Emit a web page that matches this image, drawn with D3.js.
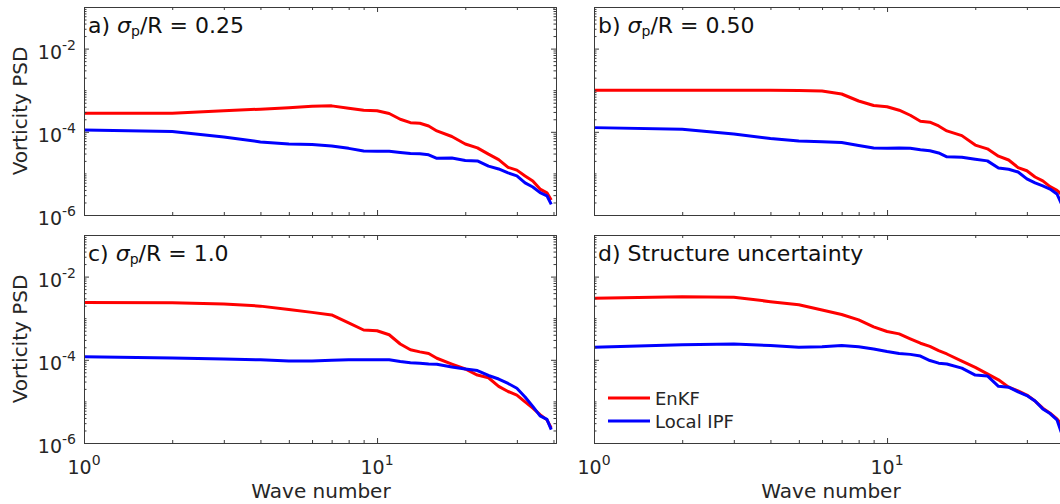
<!DOCTYPE html>
<html>
<head>
<meta charset="utf-8">
<script src="https://cdn.jsdelivr.net/npm/d3@7"></script>
<style>
  body { margin: 0; background: #fff; }
  svg { display: block; font-family: "DejaVu Sans", sans-serif; }
</style>
</head>
<body>
<svg id="chart" width="1060" height="504"></svg>
<script>
// wave numbers shared by all curves
const waveNumbers = [1, 2, 3, 4, 5, 6, 7, 8, 9, 10, 11, 12, 13, 14, 15, 16, 18, 20, 22, 24, 26, 28, 30, 32, 34, 36, 38, 39.3];

// a) sigma_p/R = 0.25
const enkfA = [2.8e-4, 2.8e-4, 3.2e-4, 3.5e-4, 3.8e-4, 4.1e-4, 4.2e-4, 3.7e-4, 3.3e-4, 3.2e-4, 2.75e-4, 2.0e-4, 1.66e-4, 1.6e-4,
               1.38e-4, 1.05e-4, 7.7e-5, 5.1e-5, 4.1e-5, 2.9e-5, 2.15e-5, 1.4e-5, 1.2e-5, 8.7e-6, 6.6e-6, 4.2e-6, 3.4e-6, 2.3e-6];
const ipfA  = [1.1e-4, 1.02e-4, 7.5e-5, 5.7e-5, 5.1e-5, 4.95e-5, 4.55e-5, 4.0e-5, 3.45e-5, 3.4e-5, 3.4e-5, 3.2e-5, 3.0e-5, 2.95e-5,
               2.8e-5, 2.3e-5, 2.35e-5, 2.05e-5, 2.0e-5, 1.5e-5, 1.28e-5, 1.03e-5, 8.7e-6, 5.9e-6, 4.7e-6, 3.45e-6, 2.9e-6, 1.8e-6];

// b) sigma_p/R = 0.50
const enkfB = [1.0e-3, 1.0e-3, 1.0e-3, 1.0e-3, 9.8e-4, 9.6e-4, 8.1e-4, 5.5e-4, 4.3e-4, 4.0e-4, 3.3e-4, 2.5e-4, 1.8e-4, 1.7e-4,
               1.38e-4, 1.05e-4, 8.1e-5, 4.8e-5, 3.9e-5, 2.6e-5, 2.1e-5, 1.38e-5, 1.16e-5, 8.2e-6, 6.6e-6, 4.8e-6, 3.9e-6, 3.2e-6];
const ipfB  = [1.26e-4, 1.15e-4, 8.9e-5, 6.9e-5, 6.0e-5, 5.8e-5, 5.5e-5, 4.7e-5, 4.1e-5, 4.0e-5, 4.1e-5, 4.0e-5, 3.7e-5, 3.5e-5,
               3.1e-5, 2.5e-5, 2.45e-5, 2.2e-5, 2.0e-5, 1.35e-5, 1.26e-5, 1.08e-5, 7.4e-6, 5.9e-6, 5.0e-6, 4.2e-6, 3.2e-6, 1.9e-6];

// c) sigma_p/R = 1.0
const enkfC = [2.4e-3, 2.35e-3, 2.2e-3, 1.95e-3, 1.62e-3, 1.38e-3, 1.2e-3, 7.7e-4, 5.2e-4, 5.0e-4, 4.0e-4, 2.4e-4, 1.74e-4, 1.55e-4,
               1.42e-4, 1.09e-4, 7.9e-5, 6.0e-5, 4.3e-5, 3.7e-5, 2.3e-5, 1.73e-5, 1.42e-5, 9.7e-6, 6.9e-6, 4.8e-6, 3.6e-6, 2.3e-6];
const ipfC  = [1.19e-4, 1.1e-4, 1.04e-4, 1.0e-4, 9.4e-5, 9.4e-5, 9.8e-5, 1.0e-4, 1.0e-4, 1.0e-4, 1.0e-4, 9.1e-5, 8.5e-5, 8.3e-5,
               7.9e-5, 7.8e-5, 6.7e-5, 6.0e-5, 5.5e-5, 4.2e-5, 3.45e-5, 2.7e-5, 2.07e-5, 1.28e-5, 7.6e-6, 4.5e-6, 3.7e-6, 2.1e-6];

// d) structure uncertainty
const enkfD = [3.0e-3, 3.3e-3, 3.2e-3, 2.5e-3, 2.1e-3, 1.58e-3, 1.23e-3, 9.1e-4, 6.2e-4, 4.8e-4, 4.2e-4, 3.2e-4, 2.5e-4, 2.1e-4,
               1.66e-4, 1.38e-4, 9.3e-5, 6.6e-5, 4.6e-5, 3.3e-5, 2.2e-5, 1.78e-5, 1.42e-5, 1.02e-5, 6.9e-6, 5.2e-6, 3.8e-6, 2.8e-6];
const ipfD  = [2.0e-4, 2.3e-4, 2.4e-4, 2.2e-4, 2.0e-4, 2.05e-4, 2.2e-4, 2.05e-4, 1.82e-4, 1.58e-4, 1.42e-4, 1.35e-4, 1.23e-4, 9.6e-5,
               8.3e-5, 7.9e-5, 6.3e-5, 4.3e-5, 4.1e-5, 2.3e-5, 2.2e-5, 1.7e-5, 1.38e-5, 1.02e-5, 6.6e-6, 5.1e-6, 3.6e-6, 1.8e-6];

const seriesNames = ["EnKF", "Local IPF"];
const seriesColors = ["#ff0000", "#0000ff"];

const xDomain = [1, 40.8];
const yDomain = [1e-6, 1e-1];
const xTickValues = [1, 10];
const xTickExp = ["0", "1"];
const yTickValues = [1e-6, 1e-4, 1e-2];
const yTickExp = ["-6", "-4", "-2"];

const W = 472, H = 208;
const axisColor = "#3a3a3a", textColor = "#262626";

const panels = [
  {left: 84,  top: 7,   title: ["a) ", "σ", "p", "/R = 0.25"], data: [enkfA, ipfA], yLab: true,  xLab: false},
  {left: 594, top: 7,   title: ["b) ", "σ", "p", "/R = 0.50"], data: [enkfB, ipfB], yLab: false, xLab: false},
  {left: 84,  top: 235, title: ["c) ", "σ", "p", "/R = 1.0"],  data: [enkfC, ipfC], yLab: true,  xLab: true},
  {left: 594, top: 235, title: ["d) Structure uncertainty"],   data: [enkfD, ipfD], yLab: false, xLab: true, legend: true}
];

// minor tick positions for log axes
const xMinor = [];
for (let d = 1; d <= 10; d *= 10) for (let m = 2; m <= 9; m++) if (m * d < xDomain[1]) xMinor.push(m * d);
const yMinor = [];
for (let e = -6; e <= -2; e++) for (let m = 1; m <= 9; m++) {
  const v = m * Math.pow(10, e);
  if (v > yDomain[0] && v < yDomain[1] && !yTickValues.some(t => Math.abs(t - v) / v < 1e-6)) yMinor.push(v);
}

const svg = d3.select("#chart");

panels.forEach(p => {
  const x = d3.scaleLog().domain(xDomain).range([0, W]);
  const y = d3.scaleLog().domain(yDomain).range([H, 0]);
  const g = svg.append("g").attr("transform", `translate(${p.left},${p.top})`);

  // lines
  const line = d3.line().x((d, i) => x(waveNumbers[i])).y(d => y(d));
  p.data.forEach((vals, si) => {
    g.append("path").datum(vals)
      .attr("fill", "none")
      .attr("stroke", seriesColors[si])
      .attr("stroke-width", 3)
      .attr("stroke-linejoin", "round")
      .attr("d", line);
  });

  // axes, ticks pointing in on all four sides
  const addAxis = (axis, tx, ty) => {
    const a = g.append("g").attr("transform", `translate(${tx},${ty})`).call(axis);
    a.selectAll("text").remove();
    a.selectAll("path, line").attr("stroke", axisColor);
    return a;
  };
  addAxis(d3.axisBottom(x).tickValues(xTickValues).tickSize(-5).tickSizeOuter(0), 0, H);
  addAxis(d3.axisBottom(x).tickValues(xMinor).tickSize(-3).tickSizeOuter(0), 0, H);
  addAxis(d3.axisTop(x).tickValues(xTickValues).tickSize(-5).tickSizeOuter(0), 0, 0);
  addAxis(d3.axisTop(x).tickValues(xMinor).tickSize(-3).tickSizeOuter(0), 0, 0);
  addAxis(d3.axisLeft(y).tickValues(yTickValues).tickSize(-5).tickSizeOuter(0), 0, 0);
  addAxis(d3.axisLeft(y).tickValues(yMinor).tickSize(-2.5).tickSizeOuter(0), 0, 0);
  addAxis(d3.axisRight(y).tickValues(yTickValues).tickSize(-5).tickSizeOuter(0), W, 0);
  addAxis(d3.axisRight(y).tickValues(yMinor).tickSize(-2.5).tickSizeOuter(0), W, 0);

  // tick labels as 10^n
  if (p.yLab) {
    yTickValues.forEach((v, i) => {
      const t = g.append("text").attr("x", -8).attr("y", y(v) + 10)
        .attr("text-anchor", "end").attr("fill", textColor).attr("font-size", 19);
      t.append("tspan").text("10");
      t.append("tspan").attr("dy", -9).attr("font-size", 14).text(yTickExp[i]);
    });
    g.append("text")
      .attr("transform", `translate(${-p.left + 27},${H / 2}) rotate(-90)`)
      .attr("text-anchor", "middle").attr("fill", textColor).attr("font-size", 20)
      .text("Vorticity PSD");
  }
  if (p.xLab) {
    xTickValues.forEach((v, i) => {
      const t = g.append("text").attr("x", x(v)).attr("y", H + 31)
        .attr("text-anchor", "middle").attr("fill", textColor).attr("font-size", 19);
      t.append("tspan").text("10");
      t.append("tspan").attr("dy", -9).attr("font-size", 14).text(xTickExp[i]);
    });
    g.append("text")
      .attr("x", 237).attr("y", H + 55)
      .attr("text-anchor", "middle").attr("fill", textColor).attr("font-size", 20)
      .text("Wave number");
  }

  // panel title
  const tt = g.append("text").attr("x", 4).attr("y", 26).attr("fill", "#111").attr("font-size", 22);
  if (p.title.length === 1) {
    tt.text(p.title[0]);
  } else {
    tt.append("tspan").text(p.title[0]);
    tt.append("tspan").attr("font-style", "italic").text(p.title[1]);
    tt.append("tspan").attr("font-size", 14).attr("dy", 3).text(p.title[2]);
    tt.append("tspan").attr("dy", -3).text(p.title[3]);
  }

  // legend
  if (p.legend) {
    seriesNames.forEach((name, i) => {
      const ly = 163 + i * 23;
      g.append("line").attr("x1", 14).attr("x2", 56).attr("y1", ly).attr("y2", ly)
        .attr("stroke", seriesColors[i]).attr("stroke-width", 3);
      g.append("text").attr("x", 61).attr("y", ly + 7)
        .attr("fill", textColor).attr("font-size", 18).text(name);
    });
  }
});
</script>
</body>
</html>
